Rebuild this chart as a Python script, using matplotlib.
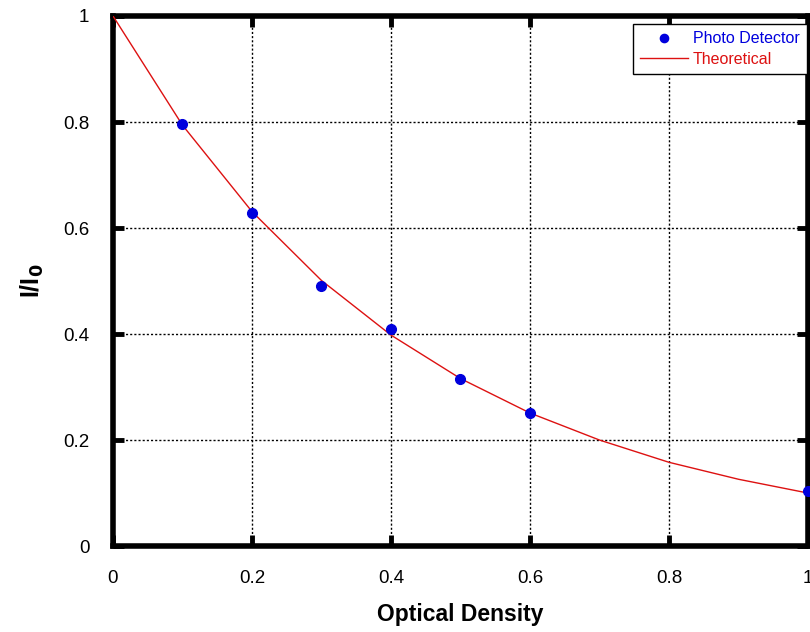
import matplotlib
matplotlib.use("Agg")
import matplotlib.pyplot as plt

plt.rcParams['font.family'] = ['Liberation Sans', 'DejaVu Sans']

# Measured points (photo detector)
od_meas = [0.1, 0.2, 0.3, 0.4, 0.5, 0.6, 1.0]
i_meas = [0.796, 0.628, 0.490, 0.409, 0.315, 0.251, 0.104]

# Theoretical curve
od_theory = [0.0, 0.1, 0.2, 0.3, 0.4, 0.5, 0.6, 0.7, 0.8, 0.9, 1.0]
i_theory = [1.0, 0.794, 0.631, 0.501, 0.398, 0.316, 0.251, 0.200, 0.158, 0.126, 0.100]

ticks = [0, 0.2, 0.4, 0.6, 0.8, 1]
tick_labels = ["0", "0.2", "0.4", "0.6", "0.8", "1"]

fig = plt.figure(figsize=(8.1, 6.32), dpi=100)
ax = fig.add_axes([0.1395, 0.136, 0.858, 0.8387])

ax.plot(od_theory, i_theory, '-', color='#dd1111', lw=1, label="Theoretical", zorder=3)
ax.plot(od_meas, i_meas, 'o', color='#0000dd', ms=7, label="Photo Detector",
        linestyle='none', zorder=4, clip_on=False)

ax.set_xlim(0, 1)
ax.set_ylim(0, 1)
ax.set_xticks(ticks)
ax.set_xticklabels(tick_labels)
ax.set_yticks(ticks)
ax.set_yticklabels(tick_labels)
ax.tick_params(direction='in', length=8, width=3.5, top=True, right=True,
               labelsize=13.5, pad=17)
for s in ax.spines.values():
    s.set_linewidth(4)

ax.grid(True, color='black', linestyle=(0, (1.5, 1.5)), linewidth=1)

ax.set_xlabel("Optical Density", fontsize=16.5, fontweight='bold', labelpad=12)
ax.set_ylabel("I/I$_\\mathbf{0}$", fontsize=18, fontweight='bold', labelpad=12)

h, l = ax.get_legend_handles_labels()
leg = ax.legend(h[::-1], l[::-1], loc='upper right', bbox_to_anchor=(0.9986, 0.985),
                fontsize=11.5, frameon=True, fancybox=False, framealpha=1,
                borderpad=0.45, handlelength=3, handletextpad=0.3,
                labelspacing=0.35, borderaxespad=0, markerscale=0.85)
leg.get_frame().set_edgecolor('black')
leg.get_frame().set_linewidth(1)
for t, c in zip(leg.get_texts(), ['#0000dd', '#dd1111']):
    t.set_color(c)

fig.savefig("out.png", dpi=100)
